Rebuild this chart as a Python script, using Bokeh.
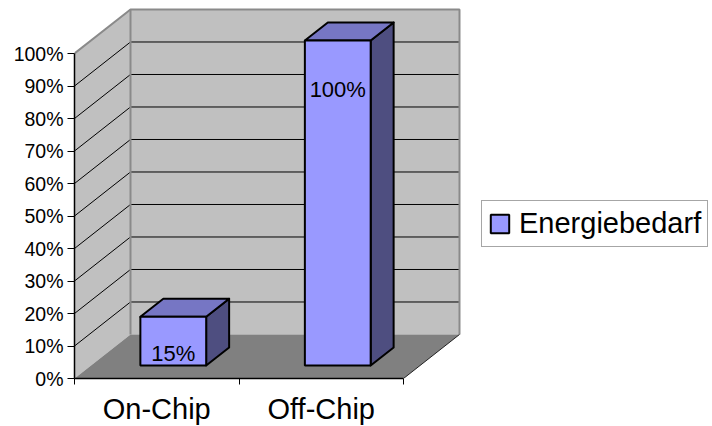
from bokeh.plotting import figure
from bokeh.models import FixedTicker, Range1d
from bokeh.core.properties import value
from bokeh.embed import file_html
from bokeh.resources import INLINE

# ---- data ----
categories = ["On-Chip", "Off-Chip"]
series_name = "Energiebedarf"
values = [15, 100]
value_labels = ["15%", "100%"]
y_ticks = [0, 10, 20, 30, 40, 50, 60, 70, 80, 90, 100]
y_tick_labels = ["0%", "10%", "20%", "30%", "40%", "50%", "60%", "70%", "80%", "90%", "100%"]

FONT = "Liberation Sans"
# 3D depth offset in data units
DX = 0.3404
DY = 13.54
F = 0.295   # front depth fraction of bars
B = 0.705   # back depth fraction of bars
BW0, BW1 = 0.30, 0.70
n = len(categories)
YMAX = 100

p = figure(frame_width=638, frame_height=378, output_backend="svg", toolbar_location=None,
           x_range=Range1d(0, 638 / 164.5), y_range=Range1d(0, 378 / 3.25),
           min_border_left=74, min_border_right=0, min_border_top=0, min_border_bottom=48,
           background_fill_color="white", border_fill_color="white")
p.outline_line_color = None
p.xgrid.visible = False
p.ygrid.visible = False

# walls and floor
p.patch([0, 0, DX, DX], [0, YMAX, YMAX + DY, DY], fill_color="#C0C0C0", line_color=None)
p.patch([DX, n + DX, n + DX, DX], [DY, DY, YMAX + DY, YMAX + DY], fill_color="#C0C0C0", line_color=None)
p.patch([0, DX, n + DX, n], [0, DY, DY, 0], fill_color="#808080", line_color=None)

# gridlines
gt = [t for t in y_ticks if 0 < t < YMAX]
p.multi_line([[DX, n + DX] for t in gt], [[t + DY, t + DY] for t in gt], line_color="black", line_width=1)
p.multi_line([[0, DX] for t in gt], [[t, t + DY] for t in gt], line_color="black", line_width=1)

# wall borders
p.line([0, DX, n + DX, n + DX], [YMAX, YMAX + DY, YMAX + DY, DY], line_color="#8a8a8a", line_width=2)
p.line([DX, DX], [DY, YMAX + DY], line_color="#8a8a8a", line_width=2)
p.line([n, n + DX], [0, DY], line_color="#222222", line_width=1)

# bars
for i, v in enumerate(values):
    x0, x1 = i + BW0, i + BW1
    # side
    p.patch([x1 + F * DX, x1 + B * DX, x1 + B * DX, x1 + F * DX],
            [F * DY, B * DY, v + B * DY, v + F * DY],
            fill_color="#4E4E80", line_color="black", line_width=2, line_join="round")
    # top
    p.patch([x0 + F * DX, x1 + F * DX, x1 + B * DX, x0 + B * DX],
            [v + F * DY, v + F * DY, v + B * DY, v + B * DY],
            fill_color="#7676C4", line_color="black", line_width=2, line_join="round")

p.quad(left=[i + BW0 + F * DX for i in range(n)], right=[i + BW1 + F * DX for i in range(n)],
       bottom=[F * DY] * n, top=[v + F * DY for v in values],
       fill_color="#9999FF", line_color="black", line_width=2, legend_label=series_name)

# value labels
p.text(x=[i + 0.5 + F * DX for i in range(n)], y=[0.956 * v - 6.8 for v in values],
       text=value_labels, text_font=value(FONT), text_font_size="22px",
       text_align="center", text_baseline="middle", text_color="black")

# axes
ya = p.yaxis[0]
ya.ticker = FixedTicker(ticks=y_ticks)
ya.major_label_overrides = {t: l for t, l in zip(y_ticks, y_tick_labels)}
ya.bounds = (0, YMAX)
ya.axis_line_color = "black"
ya.axis_line_width = 1.5
ya.major_tick_out = 7
ya.major_tick_in = 0
ya.minor_tick_line_color = None
ya.major_label_standoff = 4
ya.major_label_text_font = FONT
ya.major_label_text_font_size = "19.5px"
ya.major_label_text_color = "black"

xa = p.xaxis[0]
xa.ticker = FixedTicker(ticks=[i + 0.5 for i in range(n)], minor_ticks=list(range(n + 1)))
xa.major_label_overrides = {i + 0.5: c for i, c in enumerate(categories)}
xa.bounds = (0, n)
xa.axis_line_color = "black"
xa.axis_line_width = 1.5
xa.major_tick_out = 0
xa.major_tick_in = 0
xa.minor_tick_out = 6
xa.minor_tick_in = 0
xa.minor_tick_line_color = "black"
xa.major_label_standoff = 8
xa.major_label_text_font = FONT
xa.major_label_text_font_size = "29px"
xa.major_label_text_color = "black"

# legend
lg = p.legend[0]
lg.location = (407, 131)
lg.padding = 6
lg.margin = 0
lg.spacing = 0
lg.glyph_width = 23
lg.glyph_height = 23
lg.label_standoff = 8
lg.label_text_font = FONT
lg.label_text_font_size = "29px"
lg.label_text_color = "black"
lg.border_line_color = "#4d4d4d"
lg.border_line_width = 1
lg.background_fill_color = "white"
lg.background_fill_alpha = 1

open("out.html", "w").write(file_html(p, INLINE))
